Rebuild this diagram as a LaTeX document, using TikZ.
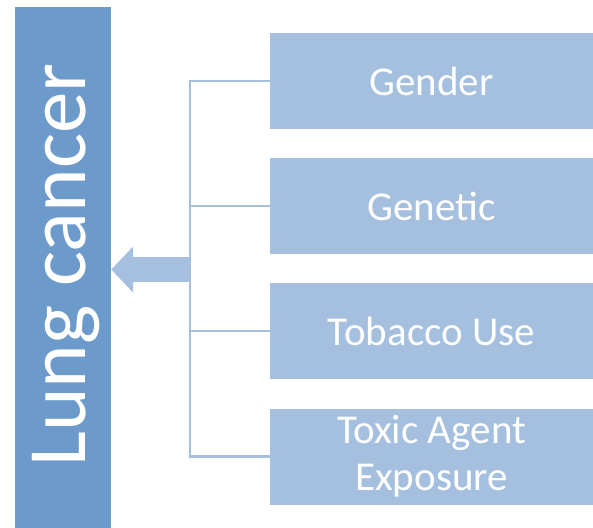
\documentclass[tikz,border=0pt]{standalone}
\usepackage{fontspec}
\setmainfont{Carlito}
\usetikzlibrary{arrows.meta}
\definecolor{darkblue}{RGB}{108,155,203}
\definecolor{lightblue}{RGB}{165,191,223}
\begin{document}
\begin{tikzpicture}[x=1pt,y=-1pt,
  factor/.style={fill=lightblue, draw=none, minimum width=323pt, minimum height=96pt,
    text=white, align=center, inner sep=0pt, font=\fontsize{41}{47}\selectfont},
  link/.style={draw=lightblue, line width=2.5pt},
  bigarrow/.style={draw=lightblue, line width=25pt, -{Triangle[length=22pt,width=45pt]}}]
\useasboundingbox (0,0) rectangle (593,527);
\node[fill=darkblue, minimum width=96pt, minimum height=522pt, inner sep=0pt] (bar) at (63,268) {};
\node[rotate=90, anchor=base, text=white, font=\fontsize{83}{99}\selectfont] (title) at (85,265) {Lung cancer};
\node[factor] (g1) at (431.5,81) {Gender};
\node[factor] (g2) at (431.5,206) {Genetic};
\node[factor] (g3) at (431.5,331) {Tobacco Use};
\node[factor] (g4) at (431.5,456.5) {Toxic Agent\\Exposure};
\coordinate (bus) at (190,269.5);
\draw[link] (g1.west) -- (g1.west -| bus) -- (g4.west -| bus) -- (g4.west);
\draw[link] (g2.west) -- (g2.west -| bus);
\draw[link] (g3.west) -- (g3.west -| bus);
\draw[bigarrow] (bus) -- (bar.east |- bus);
\end{tikzpicture}
\end{document}
